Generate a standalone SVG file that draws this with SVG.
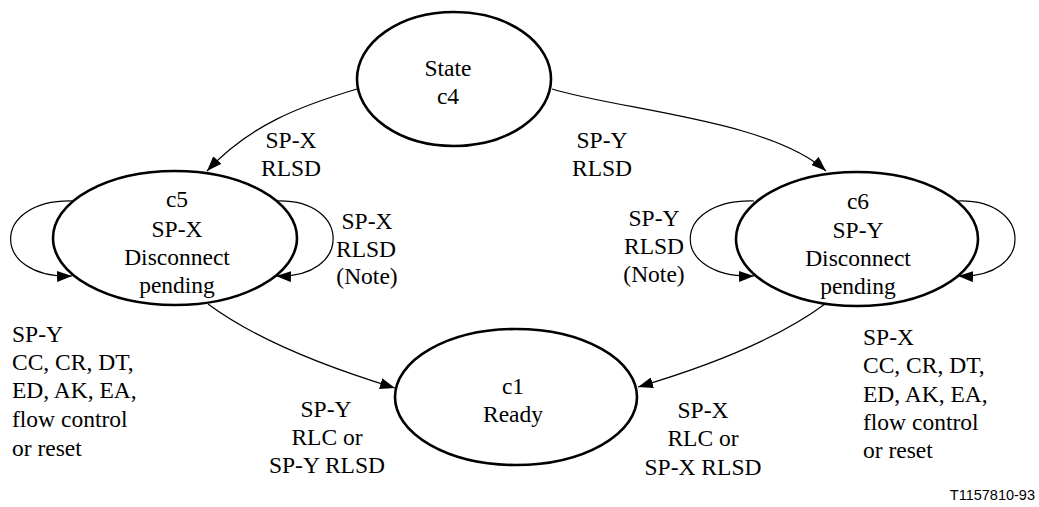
<svg xmlns="http://www.w3.org/2000/svg" width="1039" height="507" viewBox="0 0 1039 507">
<style>
.st{fill:none;stroke:#000;stroke-width:2.6}
.cn{fill:none;stroke:#000;stroke-width:1.2;marker-end:url(#ah)}
.t{font-family:'Liberation Serif','DejaVu Serif',Tinos,'Times New Roman',serif;font-size:23.5px;fill:#000}
.c{text-anchor:middle}
.id{font-family:'Liberation Sans',Arial,sans-serif;font-size:14.5px;text-anchor:end;fill:#000}
</style>
<defs>
<marker id="ah" markerUnits="userSpaceOnUse" markerWidth="15" markerHeight="11" refX="15" refY="5.5" orient="auto">
<path d="M0,0 L15,5.5 L0,11 z" fill="#000"/>
</marker>
</defs>
<rect width="1039" height="507" fill="#fff"/>
<g id="connectors">
<path class="cn" d="M357,89 C300,106 250,125 207,171"/>
<path class="cn" d="M552,89 C620,110 770,120 826,171"/>
<path class="cn" d="M73,201 C-10,199 -10,279 72,276"/>
<path class="cn" d="M277,201 C352,199 352,279 276,276"/>
<path class="cn" d="M754,201 C669,199 669,279 754,276"/>
<path class="cn" d="M958,201 C1034,199 1034,279 958,276"/>
<path class="cn" d="M208,304 Q270,350 395,388"/>
<path class="cn" d="M825,304 Q763,350 638,387"/>
</g>
<g id="c4" class="t">
<ellipse class="st" cx="454" cy="79" rx="97" ry="67"/>
<text class="c" x="448" y="76">State</text>
<text class="c" x="448" y="104">c4</text>
</g>
<g id="c5" class="t">
<ellipse class="st" cx="175" cy="238" rx="122" ry="67"/>
<text class="c" x="177" y="207">c5</text>
<text class="c" x="177" y="237">SP-X</text>
<text class="c" x="177" y="265">Disconnect</text>
<text class="c" x="177" y="293">pending</text>
</g>
<g id="c6" class="t">
<ellipse class="st" cx="857" cy="239" rx="121" ry="67"/>
<text class="c" x="858" y="209">c6</text>
<text class="c" x="858" y="238">SP-Y</text>
<text class="c" x="858" y="266">Disconnect</text>
<text class="c" x="858" y="294">pending</text>
</g>
<g id="c1" class="t">
<ellipse class="st" cx="516" cy="397" rx="121" ry="68"/>
<text class="c" x="513" y="394">c1</text>
<text class="c" x="513" y="422">Ready</text>
</g>
<g id="labels" class="t">
<text class="c" x="291" y="148">SP-X</text>
<text class="c" x="291" y="176">RLSD</text>
<text class="c" x="602" y="148">SP-Y</text>
<text class="c" x="602" y="176">RLSD</text>
<text class="c" x="367" y="229">SP-X</text>
<text class="c" x="366" y="257">RLSD</text>
<text class="c" x="367" y="284">(Note)</text>
<text class="c" x="654" y="226">SP-Y</text>
<text class="c" x="654" y="254">RLSD</text>
<text class="c" x="654" y="282">(Note)</text>
<text x="12" y="342">SP-Y</text>
<text x="12" y="370">CC, CR, DT,</text>
<text x="12" y="398">ED, AK, EA,</text>
<text x="12" y="427">flow control</text>
<text x="12" y="456">or reset</text>
<text x="863" y="345">SP-X</text>
<text x="863" y="373">CC, CR, DT,</text>
<text x="863" y="402">ED, AK, EA,</text>
<text x="863" y="430">flow control</text>
<text x="863" y="458">or reset</text>
<text class="c" x="326" y="417">SP-Y</text>
<text class="c" x="327" y="445">RLC or</text>
<text class="c" x="327" y="473">SP-Y RLSD</text>
<text class="c" x="703" y="418">SP-X</text>
<text class="c" x="703" y="446">RLC or</text>
<text class="c" x="703" y="475">SP-X RLSD</text>
</g>
<text id="figid" class="id" x="1035" y="500">T1157810-93</text>
</svg>
